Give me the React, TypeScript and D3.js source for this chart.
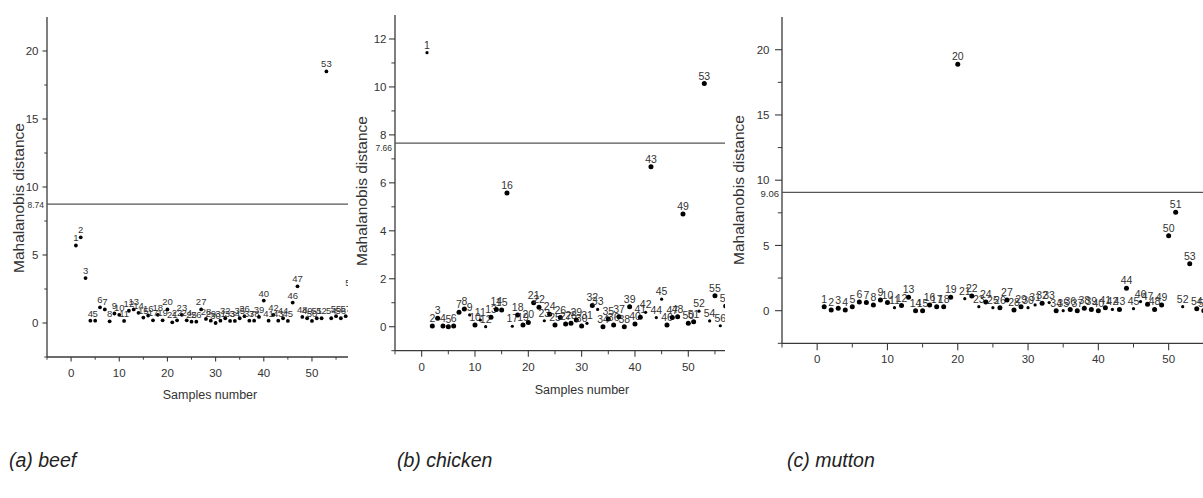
import React from "react";
import * as d3 from "d3";

const W = 1203;
const H = 498;
const FONT = "'Liberation Sans', Arial, sans-serif";

// Mahalanobis distance per sample (sample number = index + 1)
const beefDistance = [
  5.7, 6.3, 3.3, 0.17, 0.17, 1.15, 1.0, 0.12, 0.7, 0.6,
  0.15, 0.9, 1.0, 0.75, 0.4, 0.55, 0.2, 0.6, 0.2, 1.0,
  0.05, 0.2, 0.6, 0.2, 0.1, 0.1, 1.0, 0.3, 0.17, 0.0,
  0.17, 0.35, 0.15, 0.15, 0.35, 0.5, 0.17, 0.17, 0.45, 1.65,
  0.17, 0.6, 0.17, 0.35, 0.15, 1.5, 2.7, 0.45, 0.35, 0.15,
  0.35, 0.35, 18.5, 0.35, 0.5, 0.35, 0.5, 2.4,
];
const chickenDistance = [
  11.43, 0.03, 0.35, 0.03, 0.0, 0.03, 0.6, 0.74, 0.49, 0.07,
  0.28, 0.0, 0.39, 0.72, 0.7, 5.58, 0.02, 0.49, 0.07, 0.18,
  1.0, 0.81, 0.25, 0.52, 0.07, 0.38, 0.11, 0.14, 0.28, 0.03,
  0.14, 0.89, 0.72, 0.0, 0.32, 0.07, 0.42, 0.0, 0.83, 0.11,
  0.39, 0.6, 6.67, 0.38, 1.15, 0.07, 0.38, 0.42, 4.7, 0.14,
  0.21, 0.65, 10.14, 0.24, 1.29, 0.04, 0.86,
];
const muttonDistance = [
  0.31, 0.05, 0.18, 0.05, 0.31, 0.67, 0.62, 0.44, 0.82, 0.62,
  0.23, 0.39, 1.03, 0.0, 0.0, 0.44, 0.31, 0.31, 1.03, 18.88,
  0.92, 1.13, 0.31, 0.67, 0.23, 0.23, 0.82, 0.05, 0.31, 0.23,
  0.44, 0.57, 0.62, 0.0, 0.0, 0.1, 0.0, 0.18, 0.1, 0.0,
  0.23, 0.1, 0.1, 1.72, 0.15, 0.7, 0.49, 0.1, 0.44, 5.75,
  7.54, 0.31, 3.6, 0.15, 0.0,
];

const beefLimit = 8.74;
const chickenLimit = 7.66;
const muttonLimit = 9.06;

const xTicks = [0, 10, 20, 30, 40, 50];
const xMinor = [-5, 5, 15, 25, 35, 45, 55];
const beefYTicks = [0, 5, 10, 15, 20];
const beefYMinor = [-2.5, 2.5, 7.5, 12.5, 17.5];
const chickenYTicks = [0, 2, 4, 6, 8, 10, 12];
const chickenYMinor = [-1, 1, 3, 5, 7, 9, 11];
const muttonYTicks = [0, 5, 10, 15, 20];
const muttonYMinor = [-2.5, 2.5, 7.5, 12.5, 17.5];

const captions = ["(a) beef", "(b) chicken", "(c) mutton"];
const yTitle = "Mahalanobis distance";
const xTitle = "Samples number";

// samples drawn with the smaller marker in the original
const chickenSmall = [1, 9, 11, 12, 17, 23, 31, 33, 42, 44, 45, 52, 54, 56];
const muttonSmall = [11, 21, 23, 25, 30, 31, 33, 35, 42, 45, 46, 52];

type PanelProps = {
  id: string;
  values: number[];
  limit: number;
  xDomain: [number, number];
  xRange: [number, number];
  yDomain: [number, number];
  yRange: [number, number];
  yTicks: number[];
  yMinor: number[];
  clip: [number, number];
  tickLen: number;
  labelGap: number;
  limitDy: number;
  limitSize: number;
  r: number;
  small?: number[];
  labelSize: number;
  yTitleX: number;
  yTitleY: number;
  xTitlePos?: [number, number];
};

function Panel(p: PanelProps) {
  const x = d3.scaleLinear().domain(p.xDomain).range(p.xRange);
  const y = d3.scaleLinear().domain(p.yDomain).range(p.yRange);
  const x0 = x(p.xDomain[0]);
  const yb = y(p.yDomain[0]);
  const yt = y(p.yDomain[1]);
  const smallSet = new Set(p.small || []);
  const axisColor = "#3a3a3a";
  const textColor = "#333";

  return (
    <g>
      <defs>
        <clipPath id={p.id}>
          <rect x={p.clip[0]} y={0} width={p.clip[1] - p.clip[0]} height={H} />
        </clipPath>
      </defs>
      <g clipPath={`url(#${p.id})`} fontFamily={FONT}>
        {/* y axis */}
        <line x1={x0} x2={x0} y1={yt} y2={yb} stroke={axisColor} strokeWidth={1.3} />
        {p.yTicks.map((t) => (
          <g key={"yt" + t}>
            <line x1={x0 - p.tickLen} x2={x0} y1={y(t)} y2={y(t)} stroke={axisColor} strokeWidth={1.1} />
            <text x={x0 - p.tickLen - p.labelGap} y={y(t)} dy="0.36em" textAnchor="end" fontSize={11.5} fill={textColor}>
              {t}
            </text>
          </g>
        ))}
        {p.yMinor.map((t) => (
          <line key={"ym" + t} x1={x0 - p.tickLen * 0.6} x2={x0} y1={y(t)} y2={y(t)} stroke={axisColor} strokeWidth={1} />
        ))}
        {/* x axis */}
        <line x1={x0} x2={p.clip[1] + 5} y1={yb} y2={yb} stroke={axisColor} strokeWidth={1.3} />
        {xTicks.map((t) => (
          <g key={"xt" + t}>
            <line x1={x(t)} x2={x(t)} y1={yb} y2={yb + p.tickLen} stroke={axisColor} strokeWidth={1.1} />
            <text x={x(t)} y={yb + 16} dy="0.36em" textAnchor="middle" fontSize={11.5} fill={textColor}>
              {t}
            </text>
          </g>
        ))}
        {xMinor.map((t) => (
          <line key={"xm" + t} x1={x(t)} x2={x(t)} y1={yb} y2={yb + p.tickLen * 0.6} stroke={axisColor} strokeWidth={1} />
        ))}
        {/* threshold */}
        <line x1={x0} x2={p.clip[1] + 5} y1={y(p.limit)} y2={y(p.limit)} stroke="#555" strokeWidth={1.3} />
        <text x={x0 - 3} y={y(p.limit) + p.limitDy} textAnchor="end" fontSize={p.limitSize} fill={textColor}>
          {p.limit.toFixed(2)}
        </text>
        {/* samples */}
        {p.values.map((v, i) => (
          <g key={"p" + i}>
            <circle cx={x(i + 1)} cy={y(v)} r={smallSet.has(i + 1) ? 1.6 : p.r} fill="#000" />
            <text x={x(i + 1)} y={y(v) - 4} textAnchor="middle" fontSize={p.labelSize} fill={textColor}>
              {i + 1}
            </text>
          </g>
        ))}
        {/* titles */}
        <text
          transform={`translate(${p.yTitleX},${p.yTitleY}) rotate(-90)`}
          textAnchor="middle"
          fontSize={15.5}
          fill={textColor}
        >
          {yTitle}
        </text>
        {p.xTitlePos && (
          <text x={p.xTitlePos[0]} y={p.xTitlePos[1]} textAnchor="middle" fontSize={12.5} fill={textColor}>
            {xTitle}
          </text>
        )}
      </g>
    </g>
  );
}

export default function App() {
  return (
    <div style={{ position: "absolute", left: 0, top: 0 }}>
      <svg width={W} height={H} style={{ display: "block", background: "#fff" }}>
        <Panel
          id="clip-beef"
          values={beefDistance}
          limit={beefLimit}
          xDomain={[-5, 58]}
          xRange={[47, 350.5]}
          yDomain={[-2.5, 22.5]}
          yRange={[357, 17]}
          yTicks={beefYTicks}
          yMinor={beefYMinor}
          clip={[0, 348]}
          tickLen={4.5}
          labelGap={4}
          limitDy={4.3}
          limitSize={8.5}
          r={1.9}
          labelSize={9.5}
          yTitleX={24}
          yTitleY={198}
          xTitlePos={[210, 399]}
        />
        <Panel
          id="clip-chicken"
          values={chickenDistance}
          limit={chickenLimit}
          xDomain={[-5, 56]}
          xRange={[395, 720.3]}
          yDomain={[-1, 13]}
          yRange={[350.7, 15]}
          yTicks={chickenYTicks}
          yMinor={chickenYMinor}
          clip={[352, 725]}
          tickLen={6}
          labelGap={2.5}
          limitDy={7.7}
          limitSize={8.5}
          r={2.5}
          small={chickenSmall}
          labelSize={10.5}
          yTitleX={367}
          yTitleY={191}
          xTitlePos={[582, 394]}
        />
        <Panel
          id="clip-mutton"
          values={muttonDistance}
          limit={muttonLimit}
          xDomain={[-5, 55]}
          xRange={[782, 1203.8]}
          yDomain={[-2.5, 22.5]}
          yRange={[343.3, 17.1]}
          yTicks={muttonYTicks}
          yMinor={muttonYMinor}
          clip={[727, 1203]}
          tickLen={7}
          labelGap={5.5}
          limitDy={4.4}
          limitSize={9.5}
          r={2.5}
          small={muttonSmall}
          labelSize={10.5}
          yTitleX={744}
          yTitleY={190}
        />
        {captions.map((c, i) => (
          <text
            key={c}
            x={[9, 397, 787][i]}
            y={467}
            fontFamily={FONT}
            fontStyle="italic"
            fontSize={19.5}
            fill="#222"
          >
            {c}
          </text>
        ))}
      </svg>
    </div>
  );
}
